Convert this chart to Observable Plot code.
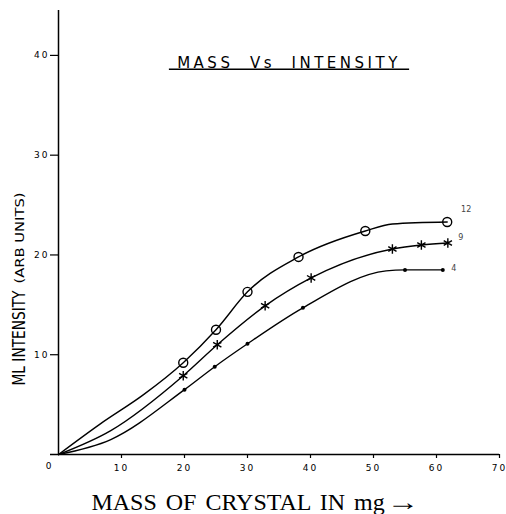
<!DOCTYPE html>
<html>
<head>
<meta charset="utf-8">
<script src="https://cdn.jsdelivr.net/npm/d3@7"></script>
<script src="https://cdn.jsdelivr.net/npm/@observablehq/plot@0.6"></script>
<style>
  html, body { margin: 0; padding: 0; background: #fff; }
  #chart { width: 506px; }
  g[aria-label="x-axis tick label"] text { letter-spacing: 2px; }
  g[aria-label="y-axis tick label"] text { letter-spacing: 2px; }
  .caption { font-family: "Liberation Serif", "Times New Roman", serif; font-size: 24px; word-spacing: 3px; text-align: center; width: 506px; line-height: 24px; padding-top: 8px; color: #000; white-space: nowrap; }
  .arrow { display: inline-block; transform: scaleX(1.35); margin-left: 6px; }
</style>
</head>
<body>
<div id="chart"></div>
<script>
// ---- data ----
const massTicks = [10, 20, 30, 40, 50, 60, 70];
const intensityTicks = [10, 20, 30, 40];
const originLabel = ["0"];

// curve "12" (open circles)
const curve12Mass      = [0, 6.7, 13.5, 19.8, 25.0, 30.0, 38.1, 48.7, 53.0, 61.7];
const curve12Intensity = [0, 3.1, 6.0,  9.2,  12.5, 16.3, 19.8, 22.4, 23.1, 23.3];
const mark12Mass       = [19.8, 25.0, 30.0, 38.1, 48.7, 61.7];
const mark12Intensity  = [9.2,  12.5, 16.3, 19.8, 22.4, 23.3];

// curve "9" (asterisks)
const curve9Mass       = [0, 8.3, 19.8, 25.2, 32.8, 40.1, 53.0, 57.6, 61.8];
const curve9Intensity  = [0, 2.4, 7.9,  11.0, 14.9, 17.7, 20.6, 21.0, 21.2];
const mark9Mass        = [19.8, 25.2, 32.8, 40.1, 53.0, 57.6, 61.8];
const mark9Intensity   = [7.9,  11.0, 14.9, 17.7, 20.6, 21.0, 21.2];

// curve "4" (dots)
const curve4Mass       = [0, 8.3, 20.0, 24.8, 30.0, 38.8, 52.0, 55.0, 61.0];
const curve4Intensity  = [0, 1.5, 6.5,  8.8,  11.1, 14.7, 18.4, 18.5, 18.5];
const mark4Mass        = [20.0, 24.8, 30.0, 38.8, 55.0, 61.0];
const mark4Intensity   = [6.5,  8.8,  11.1, 14.7, 18.5, 18.5];

const seriesNames = ["12", "9", "4"];
const titleText = ["\u00a0MASS\u00a0\u00a0Vs\u00a0\u00a0INTENSITY\u00a0"];
const yLabelMain = "ML INTENSITY";
const yLabelUnits = "(ARB UNITS)";
const xLabel = "MASS OF CRYSTAL IN mg";
const xLabelArrow = "\u2192";

// ---- build tables ----
const zip = (xs, ys) => xs.map((x, i) => ({mass: x, intensity: ys[i]}));
const c12 = zip(curve12Mass, curve12Intensity), m12 = zip(mark12Mass, mark12Intensity);
const c9  = zip(curve9Mass, curve9Intensity),   m9  = zip(mark9Mass, mark9Intensity);
const c4  = zip(curve4Mass, curve4Intensity),   m4  = zip(mark4Mass, mark4Intensity);

const lineStyle = {x: "mass", y: "intensity", stroke: "#000", strokeWidth: 1.4, curve: "monotone-x"};

const plot = Plot.plot({
  width: 506,
  height: 482,
  marginLeft: 58,
  marginRight: 7,
  marginTop: 10,
  marginBottom: 28,
  x: {domain: [0, 70]},
  y: {domain: [0, 44.5]},
  style: {fontFamily: "DejaVu Sans", fontSize: "9px", color: "#000", background: "#fff"},
  marks: [
    Plot.axisX({ticks: massTicks, tickSize: 4, tickPadding: 6, label: null, fontSize: 9, strokeWidth: 1.2}),
    Plot.axisY({ticks: intensityTicks, tickSize: 8, tickPadding: 1, label: null, fontSize: 9, strokeWidth: 1.2}),
    Plot.ruleX([0], {stroke: "#000", strokeWidth: 1.5}),
    Plot.ruleY([0], {stroke: "#000", strokeWidth: 1.5, insetLeft: -8}),
    Plot.text(originLabel, {x: () => 0, y: () => 0, text: d => d, dx: -10, dy: 12, fontSize: 9}),
    Plot.line(c12, lineStyle),
    Plot.line(c9, lineStyle),
    Plot.line(c4, lineStyle),
    Plot.dot(m12, {x: "mass", y: "intensity", r: 4.5, stroke: "#000", strokeWidth: 1.4, fill: "none"}),
    Plot.dot(m9, {x: "mass", y: "intensity", r: 4.5, symbol: "asterisk", stroke: "#000", strokeWidth: 1.4}),
    Plot.dot(m4, {x: "mass", y: "intensity", r: 2, fill: "#000", stroke: "none"}),
    Plot.text([m12[m12.length - 1]], {x: "mass", y: "intensity", text: () => seriesNames[0], dx: 19, dy: -13, fontSize: 8, fill: "#444"}),
    Plot.text([m9[m9.length - 1]],  {x: "mass", y: "intensity", text: () => seriesNames[1], dx: 13, dy: -6, fontSize: 8, fill: "#444"}),
    Plot.text([m4[m4.length - 1]],  {x: "mass", y: "intensity", text: () => seriesNames[2], dx: 11, dy: -1, fontSize: 8, fill: "#444"}),
    Plot.text(titleText, {frameAnchor: "top", lineAnchor: "bottom", text: d => d, dx: 10, dy: 57, fontSize: 15, fill: "#000"})
  ]
});

// title style: underline, spacing
d3.select(plot).selectAll('g[aria-label="text"]').filter(function() {
  return d3.select(this).text().includes("MASS");
}).selectAll("text").style("letter-spacing", "3.5px").style("text-decoration", "underline");

// rotated y-axis label
const svg = d3.select(plot);
const yl = svg.append("g").attr("transform", "translate(25,240) rotate(-90)")
  .attr("font-family", "DejaVu Sans").attr("fill", "#000");
yl.append("text").attr("x", -98).attr("y", 0).attr("font-size", 17)
  .attr("textLength", 95).attr("lengthAdjust", "spacingAndGlyphs").text(yLabelMain);
yl.append("text").attr("x", 2).attr("y", -1).attr("font-size", 12)
  .attr("textLength", 91).attr("lengthAdjust", "spacingAndGlyphs").text(yLabelUnits);

document.getElementById("chart").appendChild(plot);
const cap = document.createElement("div");
cap.className = "caption";
cap.append(xLabel);
const arr = document.createElement("span");
arr.className = "arrow";
arr.textContent = xLabelArrow;
cap.appendChild(arr);
document.body.appendChild(cap);
</script>
</body>
</html>
